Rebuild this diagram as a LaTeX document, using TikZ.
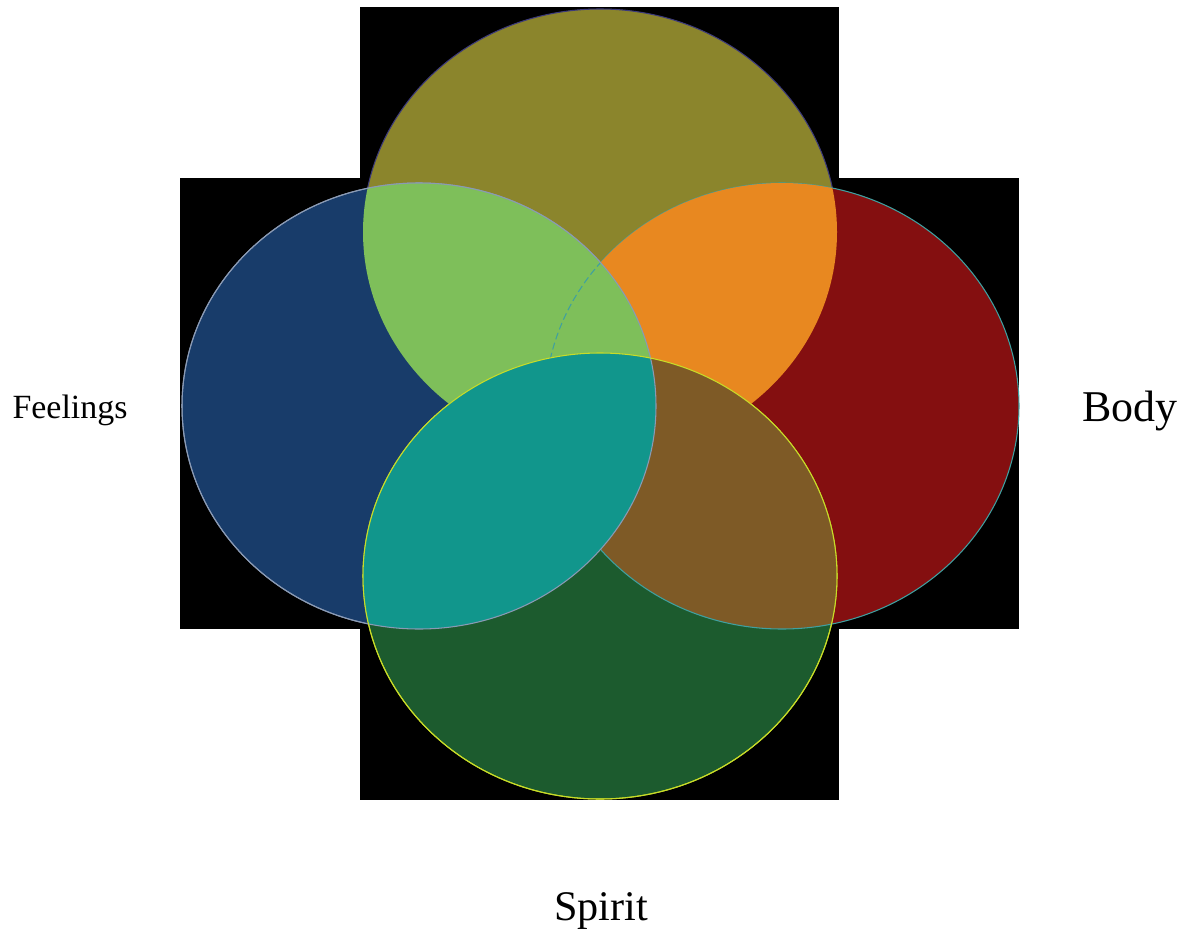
\documentclass[tikz,border=0pt]{standalone}
\usepackage{fontspec}
\setmainfont{Liberation Serif}

\definecolor{mindfill}{RGB}{139,133,44}
\definecolor{feelfill}{RGB}{24,60,106}
\definecolor{bodyfill}{RGB}{132,15,16}
\definecolor{spirfill}{RGB}{28,91,46}
\definecolor{mindfeel}{RGB}{126,191,90}
\definecolor{mindbody}{RGB}{232,136,32}
\definecolor{feelspir}{RGB}{17,150,140}
\definecolor{bodyspir}{RGB}{126,90,38}
\definecolor{mindline}{RGB}{60,58,122}
\definecolor{feelline}{RGB}{138,154,180}
\definecolor{bodyline}{RGB}{63,160,160}
\definecolor{spirline}{RGB}{200,220,40}

\begin{document}
\begin{tikzpicture}[x=0.02cm,y=-0.02cm,line join=round,
    rim/.style={line width=0.6pt},
    lbl/.style={anchor=base,inner sep=0pt}]
  \useasboundingbox (0,0) rectangle (1186,933);
  \def\rx{237}  % half width of each ellipse (px)
  \def\ry{223}  % half height

  % --- black cross behind the ellipses ---
  \fill[black] (360,7) rectangle (839,800);
  \fill[black] (180,178) rectangle (1019,629);

  % --- centres ---
  \coordinate (mind) at (600,232);
  \coordinate (feel) at (419,406);
  \coordinate (body) at (782,406);
  \coordinate (spir) at (600,576);

  % --- plain ellipses ---
  \filldraw[fill=mindfill,draw=mindline,rim] (mind) ellipse [x radius=\rx,y radius=\ry];
  \filldraw[fill=bodyfill,draw=bodyline,rim] (body) ellipse [x radius=\rx,y radius=\ry];
  \filldraw[fill=feelfill,draw=feelline,rim] (feel) ellipse [x radius=\rx,y radius=\ry];
  \filldraw[fill=spirfill,draw=spirline,rim] (spir) ellipse [x radius=\rx,y radius=\ry];

  % --- overlaps ---
  \begin{scope}
    \clip (mind) ellipse [x radius=\rx,y radius=\ry];
    \fill[mindbody] (body) ellipse [x radius=\rx,y radius=\ry];
  \end{scope}
  \begin{scope}
    \clip (body) ellipse [x radius=\rx,y radius=\ry];
    \fill[bodyspir] (spir) ellipse [x radius=\rx,y radius=\ry];
  \end{scope}
  \begin{scope}
    \clip (mind) ellipse [x radius=\rx,y radius=\ry];
    \fill[mindfeel] (feel) ellipse [x radius=\rx,y radius=\ry];
  \end{scope}
  \begin{scope}
    \clip (feel) ellipse [x radius=\rx,y radius=\ry];
    \draw[bodyline,rim,dashed,dash pattern=on 4pt off 2pt] (body) ellipse [x radius=\rx,y radius=\ry];
  \end{scope}
  \begin{scope}
    \clip (spir) ellipse [x radius=\rx,y radius=\ry];
    \draw[bodyline,rim] (body) ellipse [x radius=\rx,y radius=\ry];
  \end{scope}
  \begin{scope}
    \clip (feel) ellipse [x radius=\rx,y radius=\ry];
    \fill[feelspir] (spir) ellipse [x radius=\rx,y radius=\ry];
  \end{scope}

  % --- rims on top ---
  \draw[feelline,rim] (feel) ellipse [x radius=\rx,y radius=\ry];
  \draw[spirline,rim] (spir) ellipse [x radius=\rx,y radius=\ry];

  % --- labels ---
  \node[lbl,font=\fontsize{19.3}{23}\selectfont] (feelings) at (70,418) {Feelings};
  \node[lbl,font=\fontsize{25}{30}\selectfont] (bodylbl) at (1130,421) {Body};
  \node[lbl,font=\fontsize{24}{29}\selectfont] (spirit) at (601,920) {Spirit};
\end{tikzpicture}
\end{document}
